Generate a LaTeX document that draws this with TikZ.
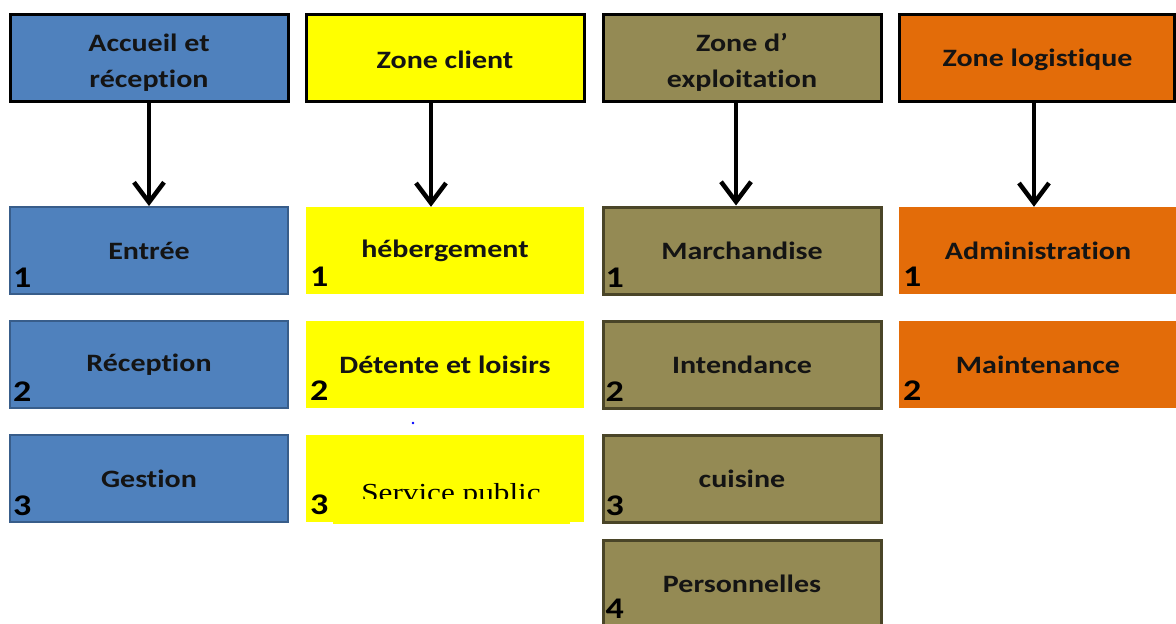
\documentclass[tikz,border=0pt]{standalone}
\usepackage{fontspec}
\usetikzlibrary{arrows.meta}
\newfontfamily\calib[FakeStretch=1.2,RawFeature={-liga;-clig;-calt;-dlig}]{Carlito}
\newfontfamily\tnr[FakeStretch=1.2]{Liberation Serif}
\definecolor{cblue}{HTML}{4F81BD}
\definecolor{cblueb}{HTML}{385D8A}
\definecolor{cyel}{HTML}{FFFF00}
\definecolor{coli}{HTML}{948A54}
\definecolor{colib}{HTML}{4A4528}
\definecolor{corg}{HTML}{E36C09}
\definecolor{ctxt}{HTML}{141414}
\begin{document}
\begin{tikzpicture}[x=1pt,y=-1pt,
 txt/.style={inner sep=0pt, align=center, text=ctxt, font=\calib\bfseries\fontsize{25}{36}\selectfont},
 box/.style={rectangle, minimum width=278pt, minimum height=87pt, txt},
 hdr/.style={box, draw=black, line width=3pt},
 num/.style={anchor=base west, inner sep=0pt, text=black, font=\calib\bfseries\fontsize{30}{30}\selectfont},
 arr/.style={line width=4.5pt, -{Straight Barb[length=20pt,width=30pt]}},
 bl/.style={box, fill=cblue, draw=cblueb, line width=2pt},
 ye/.style={box, fill=cyel},
 ol/.style={box, fill=coli, draw=colib, line width=3pt},
 orb/.style={box, fill=corg},
]
\useasboundingbox (0,0) rectangle (1176,624);
\clip (0,0) rectangle (1176,624);
% headers
\node[hdr, fill=cblue] (h1) at (149,57.5) {};
\node[hdr, fill=cyel] (h2) at (445,57.5) {};
\node[hdr, fill=coli] (h3) at (742,57.5) {};
\node[hdr, fill=corg, minimum width=275pt] (h4) at (1036.5,57.5) {};
\node[txt] (t1) at ([yshift=-5pt]h1.center) {Accueil et\\réception};
\node[txt] (t2) at ([yshift=-2pt]h2.center) {Zone client};
\node[txt] (t3) at ([yshift=-5pt]h3.center) {Zone d’\\exploitation};
\node[txt] (t4) at ([xshift=1pt,yshift=-2pt]h4.center) {Zone logistique};
% column 1
\node[bl] (s11) at (149,250.5) {Entrée};
\node[bl] (s12) at (149,364.5) {Réception};
\node[bl] (s13) at (149,478.5) {Gestion};
% column 2
\node[ye] (s21) at (445,250.5) {hébergement};
\node[ye] (s22) at (445,364.5) {Détente et loisirs};
\node[ye] (s23) at (445,478.5) {};
% column 3
\node[ol] (s31) at (742,250.5) {Marchandise};
\node[ol] (s32) at (742,364.5) {Intendance};
\node[ol] (s33) at (742,478.5) {cuisine};
\node[ol] (s34) at (742,583.5) {Personnelles};
% column 4
\node[orb] (s41) at (1038,250.5) {Administration};
\node[orb] (s42) at (1038,364.5) {Maintenance};
% numbers
\foreach \b/\n in {s11/1,s12/2,s13/3,s21/1,s22/2,s23/3,s31/1,s32/2,s33/3,s41/1,s42/2}
  \node[num] (n\b) at ([xshift=4pt,yshift=8pt]\b.south west) {\n};
\node[num] (ns34) at ([xshift=4pt,yshift=10pt]s34.south west) {4};
% service public text, clipped by an overlay
\node[anchor=base, inner sep=0pt, text=black, font=\tnr\fontsize{26}{26}\selectfont] (sp) at (451,501) {Service public};
\fill[cyel] (333,498.5) rectangle (570,524);
% stray dot
\coordinate (dot) at (413,423);
\fill[blue] (dot) circle (1.3pt);
% arrows
\draw[arr] (h1.south) -- (s11.north);
\draw[arr] ([xshift=-14pt]h2.south) -- ([xshift=-14pt]s21.north);
\draw[arr] ([xshift=-6pt]h3.south) -- ([xshift=-6pt]s31.north);
\draw[arr] ([xshift=-2.5pt]h4.south) -- ([xshift=-4pt]s41.north);
\end{tikzpicture}
\end{document}
